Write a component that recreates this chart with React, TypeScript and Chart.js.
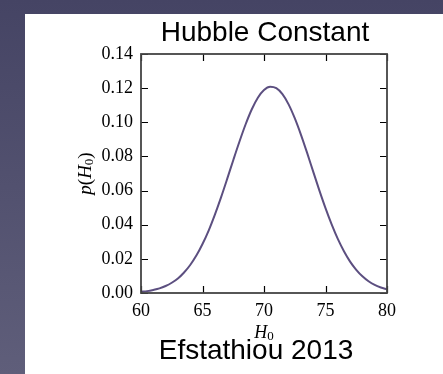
import React, { useEffect, useRef } from "react";
import { Chart, registerables } from "chart.js";

Chart.register(...registerables);

const TITLE = "Hubble Constant";
const SUBTITLE = "Efstathiou 2013";
const H0_VALUES = [
  60, 60.5, 61, 61.5, 62, 62.5, 63, 63.5, 64, 64.5, 65, 65.5, 66, 66.5, 67, 67.5, 68, 68.5, 69, 69.5,
  70, 70.5, 71, 71.5, 72, 72.5, 73, 73.5, 74, 74.5, 75, 75.5, 76, 76.5, 77, 77.5, 78, 78.5, 79, 79.5, 80,
];
const P_VALUES = [
  0.0007, 0.0011, 0.0018, 0.0027, 0.0041, 0.006, 0.0085, 0.012, 0.0164, 0.0219, 0.0287, 0.0366, 0.0458,
  0.0559, 0.0667, 0.0778, 0.0886, 0.0987, 0.1075, 0.1144, 0.1189, 0.1208, 0.12, 0.1165, 0.1105, 0.1024,
  0.0928, 0.0822, 0.0711, 0.0601, 0.0497, 0.0402, 0.0317, 0.0245, 0.0184, 0.0136, 0.0098, 0.0069, 0.0047,
  0.0032, 0.0021,
];
const X_TICKS = [60, 65, 70, 75, 80];
const Y_TICKS = [0, 0.02, 0.04, 0.06, 0.08, 0.1, 0.12, 0.14];

const SERIF = '"Liberation Serif", "Times New Roman", serif';
const SANS = '"Liberation Sans", Arial, Helvetica, sans-serif';

function drawMath(ctx: CanvasRenderingContext2D, parts: { t: string; f: string; dy: number }[], cx: number, cy: number) {
  let total = 0;
  for (const p of parts) {
    ctx.font = p.f;
    total += ctx.measureText(p.t).width;
  }
  let x = cx - total / 2;
  ctx.textAlign = "left";
  ctx.textBaseline = "middle";
  for (const p of parts) {
    ctx.font = p.f;
    ctx.fillText(p.t, x, cy + p.dy);
    x += ctx.measureText(p.t).width;
  }
}

const framePlugin = {
  id: "framePlugin",
  afterDraw(chart: any) {
    const { ctx, chartArea } = chart;
    const { left, right, top, bottom } = chartArea;
    const xs = chart.scales.x;
    const ys = chart.scales.y;
    ctx.save();
    // ticks inward on all four sides
    ctx.strokeStyle = "#000";
    ctx.lineWidth = 1.2;
    const tl = 7;
    ctx.beginPath();
    for (const v of X_TICKS) {
      const px = Math.round(xs.getPixelForValue(v)) + 0.5;
      ctx.moveTo(px, bottom);
      ctx.lineTo(px, bottom - tl);
      ctx.moveTo(px, top);
      ctx.lineTo(px, top + tl);
    }
    for (const v of Y_TICKS) {
      const py = Math.round(ys.getPixelForValue(v)) + 0.5;
      ctx.moveTo(left, py);
      ctx.lineTo(left + tl, py);
      ctx.moveTo(right, py);
      ctx.lineTo(right - tl, py);
    }
    ctx.stroke();
    // frame
    ctx.strokeStyle = "#444";
    ctx.lineWidth = 1.8;
    ctx.strokeRect(left, top, right - left, bottom - top);

    ctx.fillStyle = "#000";
    const cx = (left + right) / 2;
    // title
    ctx.font = `28px ${SANS}`;
    ctx.textAlign = "center";
    ctx.textBaseline = "middle";
    ctx.fillText(TITLE, cx + 1, top - 21);
    // subtitle
    ctx.fillText(SUBTITLE, cx - 8, bottom + 58);
    // x axis title H_0
    drawMath(
      ctx,
      [
        { t: "H", f: `italic 18px ${SERIF}`, dy: 0 },
        { t: "0", f: `13px ${SERIF}`, dy: 4 },
      ],
      cx,
      bottom + 40
    );
    // y axis title p(H_0)
    ctx.save();
    ctx.translate(left - 55, (top + bottom) / 2);
    ctx.rotate(-Math.PI / 2);
    drawMath(
      ctx,
      [
        { t: "p", f: `italic 19px ${SERIF}`, dy: 0 },
        { t: "(", f: `19px ${SERIF}`, dy: 0 },
        { t: "H", f: `italic 19px ${SERIF}`, dy: 0 },
        { t: "0", f: `13px ${SERIF}`, dy: 4 },
        { t: ")", f: `19px ${SERIF}`, dy: 0 },
      ],
      0,
      0
    );
    ctx.restore();
    ctx.restore();
  },
};

export default function App() {
  const ref = useRef<HTMLCanvasElement | null>(null);
  useEffect(() => {
    if (!ref.current) return;
    const chart = new Chart(ref.current, {
      type: "line",
      data: {
        datasets: [
          {
            data: H0_VALUES.map((x, i) => ({ x, y: P_VALUES[i] })),
            borderColor: "#5c4f80",
            borderWidth: 2,
            pointRadius: 0,
            cubicInterpolationMode: "monotone",
            fill: false,
          },
        ],
      },
      options: {
        animation: false,
        responsive: false,
        maintainAspectRatio: false,
        layout: { padding: { left: 0, top: 40, right: 56, bottom: 0 } },
        plugins: { legend: { display: false }, tooltip: { enabled: false }, title: { display: false } },
        scales: {
          x: {
            type: "linear",
            min: 60,
            max: 80,
            afterBuildTicks: (s: any) => {
              s.ticks = X_TICKS.map((v) => ({ value: v }));
            },
            afterFit: (s: any) => {
              s.height = 81;
            },
            grid: { display: false, drawTicks: false },
            border: { display: false },
            ticks: {
              padding: 7,
              color: "#000",
              font: { family: SERIF, size: 18 },
              maxRotation: 0,
              callback: (v: any) => String(v),
            },
          },
          y: {
            type: "linear",
            min: 0,
            max: 0.14,
            afterBuildTicks: (s: any) => {
              s.ticks = Y_TICKS.map((v) => ({ value: v }));
            },
            afterFit: (s: any) => {
              s.width = 116;
            },
            grid: { display: false, drawTicks: false },
            border: { display: false },
            ticks: {
              padding: 8,
              color: "#000",
              font: { family: SERIF, size: 18 },
              callback: (v: any) => Number(v).toFixed(2),
            },
          },
        },
      },
      plugins: [framePlugin],
    } as any);
    return () => chart.destroy();
  }, []);

  return (
    <div
      style={{
        position: "fixed",
        left: 0,
        top: 0,
        width: 443,
        height: 374,
        background: "linear-gradient(#454464, #5f5e7a)",
        overflow: "hidden",
      }}
    >
      <div style={{ position: "absolute", left: 25, top: 14, width: 418, height: 360, background: "#fff" }}>
        <canvas ref={ref} width={418} height={360} style={{ display: "block", width: 418, height: 360 }} />
      </div>
    </div>
  );
}
